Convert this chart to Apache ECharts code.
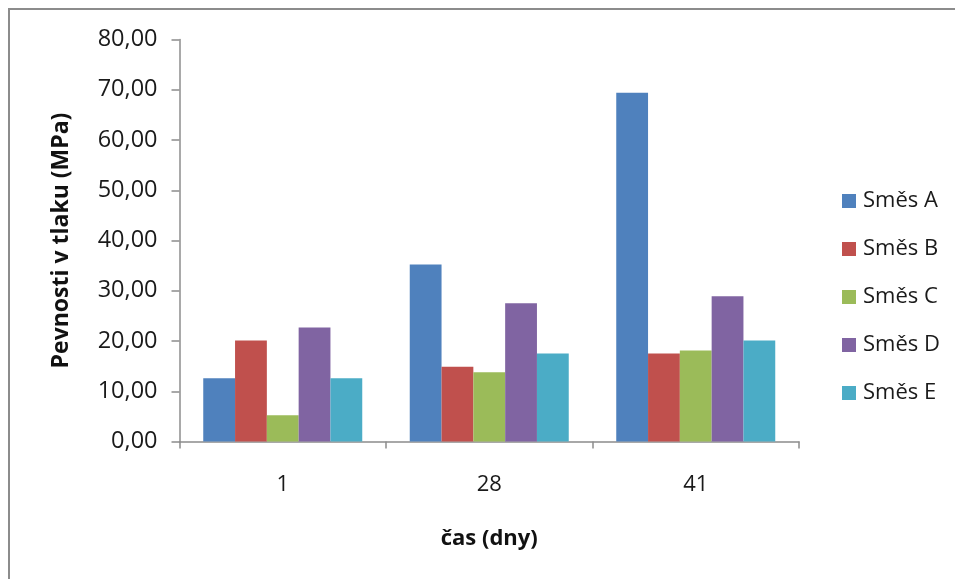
<!DOCTYPE html>
<html>
<head>
<meta charset="utf-8">
<script src="https://cdn.jsdelivr.net/npm/echarts@6/dist/echarts.min.js"></script>
<style>
html,body{margin:0;padding:0;background:#fff;}
#chart{width:955px;height:579px;}
</style>
</head>
<body>
<div id="chart"></div>
<script>
const categories = ['1', '28', '41'];
const seriesNames = ['Směs A', 'Směs B', 'Směs C', 'Směs D', 'Směs E'];
const smesA = [12.6, 35.2, 69.4];
const smesB = [20.1, 14.9, 17.5];
const smesC = [5.2, 13.8, 18.1];
const smesD = [22.7, 27.5, 28.9];
const smesE = [12.6, 17.5, 20.1];
const colors = ['#4F81BD', '#C0504D', '#9BBB59', '#8064A2', '#4BACC6'];
const yAxisTitle = 'Pevnosti v tlaku (MPa)';
const xAxisTitle = 'čas (dny)';

const allData = [smesA, smesB, smesC, smesD, smesE];
const font = '"Open Sans", sans-serif';

const chart = echarts.init(document.getElementById('chart'), null, {renderer: 'canvas'});
chart.setOption({
  animation: false,
  backgroundColor: '#ffffff',
  textStyle: {fontFamily: font},
  graphic: [{
    type: 'rect',
    shape: {x: 9, y: 9, width: 1200, height: 900},
    style: {fill: 'none', stroke: '#8c8c8c', lineWidth: 2},
    silent: true
  }],
  grid: {left: 179.5, top: 39.5, right: 156, bottom: 137.5, containLabel: false},
  legend: {
    orient: 'vertical',
    left: 842,
    top: 190,
    padding: 0,
    itemWidth: 14,
    itemHeight: 14,
    itemGap: 26,
    icon: 'rect',
    textStyle: {fontSize: 22, color: '#1a1a1a', fontFamily: font, lineHeight: 22, padding: [0, 0, 0, 2]},
    data: seriesNames
  },
  xAxis: {
    type: 'category',
    data: categories,
    name: xAxisTitle,
    nameLocation: 'middle',
    nameGap: 86,
    nameTextStyle: {fontSize: 22, fontWeight: 'bold', color: '#111', fontFamily: font},
    axisLine: {lineStyle: {color: '#8c8c8c', width: 1.5}},
    axisTick: {show: true, length: 7, lineStyle: {color: '#8c8c8c', width: 1.5}},
    axisLabel: {fontSize: 22, color: '#1a1a1a', margin: 32, fontFamily: font}
  },
  yAxis: {
    type: 'value',
    min: 0,
    max: 80,
    interval: 10,
    name: yAxisTitle,
    nameLocation: 'middle',
    nameGap: 107,
    nameRotate: 90,
    nameTextStyle: {fontSize: 23, fontWeight: 'bold', color: '#111', fontFamily: font},
    axisLine: {show: true, lineStyle: {color: '#8c8c8c', width: 1.5}},
    axisTick: {show: true, length: 8, lineStyle: {color: '#8c8c8c', width: 1.5}},
    splitLine: {show: false},
    axisLabel: {
      fontSize: 23.5, color: '#1a1a1a', margin: 22, fontFamily: font,
      formatter: v => v.toFixed(2).replace('.', ',')
    }
  },
  series: seriesNames.map((n, i) => ({
    name: n,
    type: 'bar',
    data: allData[i],
    barGap: '0%',
    barCategoryGap: '23%',
    itemStyle: {color: colors[i]}
  }))
});
</script>
</body>
</html>
